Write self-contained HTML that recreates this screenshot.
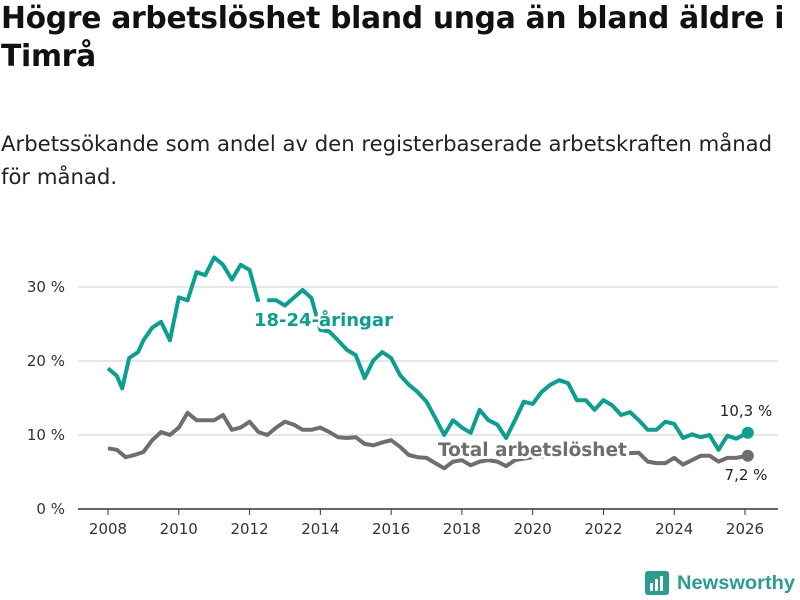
<!DOCTYPE html>
<html><head><meta charset="utf-8"><style>
body{margin:0;background:#fff;font-family:"Liberation Sans","DejaVu Sans",sans-serif;}
#wrap{position:relative;width:800px;height:600px;overflow:hidden;}
h1{position:absolute;left:1px;top:0;margin:0;font-size:29.8px;line-height:38px;font-weight:bold;color:#111;font-family:"DejaVu Sans",sans-serif;letter-spacing:-0.3px;white-space:nowrap;}
p{position:absolute;left:1px;top:127px;margin:0;font-size:21.2px;line-height:33px;color:#222;font-family:"DejaVu Sans",sans-serif;white-space:nowrap;}
svg{position:absolute;left:0;top:0;}
</style></head><body>
<div id="wrap">
<h1>Högre arbetslöshet bland unga än bland äldre i<br>Timrå</h1>
<p>Arbetssökande som andel av den registerbaserade arbetskraften månad<br>för månad.</p>
<svg id="chart" width="800" height="600"></svg>
</div>
<script>
const years=[2008,2010,2012,2014,2016,2018,2020,2022,2024,2026];
const yTicks=[0,10,20,30];
const youthT=[2008,2008.25,2008.4,2008.6,2008.85,2009,2009.25,2009.5,2009.75,2010,2010.25,2010.5,2010.75,2011,2011.25,2011.5,2011.75,2012,2012.25,null,2012.5,2012.75,2013,2013.5,2013.75,2014,2014.25,2014.5,2014.75,2015,2015.25,2015.5,2015.75,2016,2016.25,2016.5,2016.75,2017,2017.25,2017.5,2017.75,2018,2018.25,2018.5,2018.75,2019,2019.25,2019.5,2019.75,2020,2020.25,2020.5,2020.75,2021,2021.25,2021.5,2021.75,2022,2022.25,2022.5,2022.75,2023,2023.25,2023.5,2023.75,2024,2024.25,2024.5,2024.75,2025,2025.25,2025.5,2025.75,2026.08];
const youthV=[19,18,16.3,20.4,21.2,22.8,24.5,25.3,22.8,28.6,28.2,32,31.6,34,33,31,33,32.3,28,null,28.2,28.2,27.5,29.6,28.5,24.2,24,22.8,21.5,20.8,17.7,20.1,21.2,20.4,18.1,16.8,15.8,14.5,12.3,10,12,11,10.3,13.4,12,11.4,9.6,12,14.5,14.2,15.8,16.8,17.4,17,14.7,14.7,13.4,14.7,14,12.7,13.1,12,10.7,10.7,11.8,11.5,9.6,10.1,9.7,10,8,9.9,9.5,10.3];
const totalT=[2008,2008.25,2008.5,2008.75,2009,2009.25,2009.5,2009.75,2010,2010.25,2010.5,2010.75,2011,2011.25,2011.5,2011.75,2012,2012.25,2012.5,2012.75,2013,2013.25,2013.5,2013.75,2014,2014.25,2014.5,2014.75,2015,2015.25,2015.5,2015.75,2016,2016.25,2016.5,2016.75,2017,2017.25,2017.5,2017.75,2018,2018.25,2018.5,2018.75,2019,2019.25,2019.5,2019.75,2020,2020.5,2021,2021.5,2022,2022.5,2023,2023.25,2023.5,2023.75,2024,2024.25,2024.5,2024.75,2025,2025.25,2025.5,2025.75,2026.08];
const totalV=[8.2,8,7,7.3,7.7,9.3,10.4,10,11,13,12,12,12,12.7,10.7,11,11.8,10.4,10,11,11.8,11.4,10.7,10.7,11,10.4,9.7,9.6,9.7,8.8,8.6,9,9.3,8.4,7.3,7,6.9,6.2,5.5,6.4,6.6,5.9,6.4,6.6,6.4,5.8,6.6,6.8,7,7.2,7.4,7.3,7.5,7.5,7.6,6.4,6.2,6.2,6.9,6,6.6,7.2,7.2,6.4,6.9,6.9,7.2];
const NS='http://www.w3.org/2000/svg';
const svg=document.getElementById('chart');
const X=t=>108+(t-2008)*(745-108)/18;
const Y=v=>509-v*7.4;
function mk(tag,attrs,parent){const e=document.createElementNS(NS,tag);for(const k in attrs)e.setAttribute(k,attrs[k]);(parent||svg).appendChild(e);return e;}
yTicks.forEach(v=>{
  const l=mk('line',{x1:78,x2:778,y1:Y(v),y2:Y(v),stroke:v===0?'#333':'#ddd','stroke-width':1.5});
  
  
  const t=mk('text',{x:65,y:Y(v)+5,'text-anchor':'end','font-size':15,fill:'#333','font-family':'DejaVu Sans,sans-serif'});
  t.textContent=v+' %';
  
  
});
years.forEach(y=>{
  const l=mk('line',{x1:X(y),x2:X(y),y1:509,y2:515,stroke:'#333','stroke-width':1});
  
  
  const t=mk('text',{x:X(y),y:534,'text-anchor':'middle','font-size':15,fill:'#333','font-family':'DejaVu Sans,sans-serif'});
  t.textContent=y;
  
  
});
function path(T,V){let d='',pen=false;T.forEach((t,i)=>{if(t===null||V[i]===null){pen=false;return;}d+=(pen?'L':'M')+X(t).toFixed(1)+','+Y(V[i]).toFixed(1);pen=true;});return d;}
const pt=mk('path',{d:path(totalT,totalV),fill:'none',stroke:'#6e6e6e','stroke-width':4,'stroke-linejoin':'round'});


const py=mk('path',{d:path(youthT,youthV),fill:'none',stroke:'#0aa091','stroke-width':4,'stroke-linejoin':'round'});


const ly=mk('text',{x:254,y:326,'font-size':18,'font-weight':'bold',fill:'#0aa091',stroke:'#fff','stroke-width':6,'paint-order':'stroke','font-family':'DejaVu Sans,sans-serif'});
ly.textContent='18-24-åringar';


const lt=mk('text',{x:438,y:456,'font-size':18.5,'font-weight':'bold',fill:'#6e6e6e',stroke:'#fff','stroke-width':6,'paint-order':'stroke','font-family':'DejaVu Sans,sans-serif'});
lt.textContent='Total arbetslöshet';


const ey=youthT.length-1, et=totalT.length-1;
const dy=mk('circle',{cx:X(youthT[ey]),cy:Y(youthV[ey]),r:6,fill:'#0aa091'});


const dt=mk('circle',{cx:X(totalT[et]),cy:Y(totalV[et]),r:6,fill:'#6e6e6e'});


const vy=mk('text',{x:746,y:416,'text-anchor':'middle','font-size':15,fill:'#222','font-family':'DejaVu Sans,sans-serif'});
vy.textContent=String(youthV[ey]).replace('.',',')+' %';


const vt=mk('text',{x:746,y:480,'text-anchor':'middle','font-size':15,fill:'#222','font-family':'DejaVu Sans,sans-serif'});
vt.textContent=String(totalV[et]).replace('.',',')+' %';


const g=mk('g',{});


mk('rect',{x:645,y:571,width:24,height:24,rx:3,fill:'#2a9d8f'},g);
mk('rect',{x:650,y:583,width:3,height:8,fill:'#fff'},g);
mk('rect',{x:655,y:579,width:3,height:12,fill:'#fff'},g);
mk('rect',{x:660,y:576,width:3,height:15,fill:'#fff'},g);
const lg=mk('text',{x:677,y:589,'font-size':19,'font-weight':'bold',fill:'#2a9d8f','font-family':'Liberation Sans,sans-serif',textLength:118,lengthAdjust:'spacingAndGlyphs'},g);
lg.textContent='Newsworthy';
</script>
</body></html>
